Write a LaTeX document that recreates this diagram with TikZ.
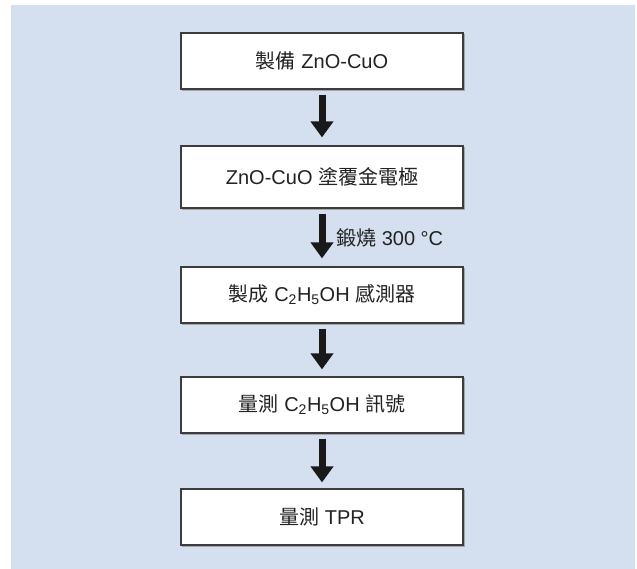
\documentclass[tikz,border=0pt]{standalone}
\usepackage{fontspec}
\setmainfont{Liberation Sans}
\newfontfamily\cjk{Noto Sans CJK TC}
\usetikzlibrary{arrows.meta}
\definecolor{bgblue}{HTML}{D4DFEF}
\definecolor{boxline}{HTML}{3C3C3C}
\definecolor{txt}{HTML}{222222}
\newcommand{\zh}[1]{{\cjk #1}}
\begin{document}
\begin{tikzpicture}[x=1pt,y=-1pt,
  stepbox/.style={draw=boxline,line width=1.2pt,fill=white,minimum width=282pt,minimum height=56pt,inner sep=0pt,
    font=\fontsize{20}{24}\selectfont,text=txt,
    preaction={draw=black!35,line width=1.2pt,transform canvas={xshift=1.2pt,yshift=-1.2pt}}},
  bigarrow/.style={line width=7pt,draw=black!90,-{Triangle[width=22pt,length=16pt]}}]
\useasboundingbox (0,0) rectangle (637,569);
\fill[bgblue] (11,5) rectangle (635,569);
\node[stepbox] (b1) at (322,61) {\zh{製備} ZnO-CuO};
\node[stepbox,minimum height=62pt] (b2) at (322,177) {ZnO-CuO \zh{塗覆金電極}};
\node[stepbox] (b3) at (322,295) {\zh{製成} C\textsubscript{2}H\textsubscript{5}OH \zh{感測器}};
\node[stepbox] (b4) at (322,405) {\zh{量測} C\textsubscript{2}H\textsubscript{5}OH \zh{訊號}};
\node[stepbox] (b5) at (322,517) {\zh{量測} TPR};
\draw[bigarrow] ([yshift=-5pt]b1.south) -- ([yshift=8pt]b2.north);
\draw[bigarrow] ([yshift=-5pt]b2.south) -- ([yshift=8pt]b3.north);
\draw[bigarrow] ([yshift=-5pt]b3.south) -- ([yshift=7pt]b4.north);
\draw[bigarrow] ([yshift=-5pt]b4.south) -- ([yshift=6pt]b5.north);
\node[anchor=west,inner sep=0pt,font=\fontsize{20}{24}\selectfont,text=txt] (lab) at (336,238) {\zh{鍛燒} 300 °C};
\end{tikzpicture}
\end{document}
